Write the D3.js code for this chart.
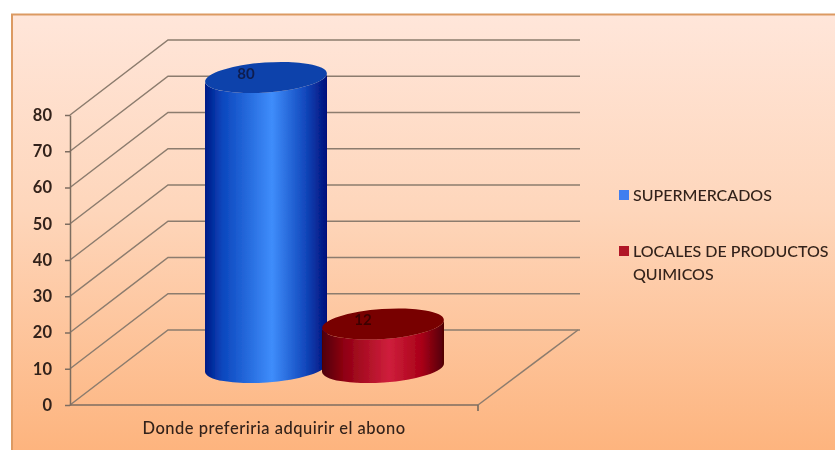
<!DOCTYPE html>
<html>
<head>
<meta charset="utf-8">
<script src="https://cdn.jsdelivr.net/npm/d3@7"></script>
<style>
  html, body { margin: 0; padding: 0; background: #fff; }
  svg { display: block; }
  text { font-family: Lato, "Open Sans", sans-serif; fill: #33221a; }
</style>
</head>
<body>
<svg id="chart" width="835" height="450"></svg>
<script>
const categories = ['Donde preferiria adquirir el abono'];
const seriesNames = ['SUPERMERCADOS', 'LOCALES DE PRODUCTOS QUIMICOS'];
const seriesValues = [80, 12];
const tickValues = [0, 10, 20, 30, 40, 50, 60, 70, 80];

const width = 835;
const height = 450;
const svg = d3.select('#chart');
const defs = svg.append('defs');

// background gradient
const bg = defs.append('linearGradient').attr('id', 'bg').attr('x1', 0).attr('x2', 0).attr('y1', 0).attr('y2', 1);
bg.append('stop').attr('offset', '0%').attr('stop-color', '#ffe6da');
bg.append('stop').attr('offset', '45%').attr('stop-color', '#fed6bb');
bg.append('stop').attr('offset', '100%').attr('stop-color', '#fdb47e');

function sideGradient(id, stops) {
  const g = defs.append('linearGradient').attr('id', id).attr('x1', 0).attr('x2', 1).attr('y1', 0).attr('y2', 0);
  stops.forEach(s => g.append('stop').attr('offset', s[0]).attr('stop-color', s[1]));
}
sideGradient('side0', [['0%', '#001a86'], ['14%', '#0b46bd'], ['55%', '#3f8dfb'], ['82%', '#1249bd'], ['100%', '#00107a']]);
sideGradient('side1', [['0%', '#4e0006'], ['18%', '#8f0012'], ['55%', '#cf1f3c'], ['82%', '#a80018'], ['100%', '#500005']]);

const soft = defs.append('filter').attr('id', 'soft').attr('x', '-5%').attr('y', '-5%').attr('width', '110%').attr('height', '110%');
soft.append('feGaussianBlur').attr('stdDeviation', 0.7);

svg.append('rect')
  .attr('x', 11).attr('y', 14)
  .attr('width', width - 11).attr('height', height - 14)
  .attr('fill', 'url(#bg)');
svg.append('path')
  .attr('d', `M12,${height}V14.5H${width}`)
  .attr('fill', 'none')
  .attr('stroke', '#dc9a62')
  .attr('stroke-width', 2);

const plot = svg.append('g').attr('filter', 'url(#soft)');

// front plane scales, the back wall is the same thing shifted by depth
const yScale = d3.scaleLinear().domain([0, 80]).range([405, 115]);
const xFront = d3.scaleLinear().domain([0, 1]).range([70, 478]);
const depth = { x: 98, y: -75 };

// cylinders stand on the middle of the floor
const xBar = d3.scalePoint().domain(seriesNames).range([266, 383]);
const rx = 61;
const ry = 15;
const tilt = -4;
const tip = rx * Math.sin(tilt * Math.PI / 180);

const gridColor = '#8c7c6e';

// grid on the side and back walls
plot.append('g')
  .selectAll('path')
  .data(tickValues)
  .join('path')
  .attr('d', d => {
    const y = yScale(d);
    return `M${xFront(0)},${y}L${xFront(0) + depth.x},${y + depth.y}H${xFront(1) + depth.x + 4}`;
  })
  .attr('fill', 'none')
  .attr('stroke', gridColor)
  .attr('stroke-width', 1.5);

// floor
plot.append('path')
  .attr('d', `M${xFront(1)},${yScale(0)}L${xFront(1) + depth.x + 2},${yScale(0) + depth.y}`)
  .attr('fill', 'none')
  .attr('stroke', gridColor)
  .attr('stroke-width', 1.5);
plot.append('path')
  .attr('d', `M${xFront(0)},${yScale(0)}H${xFront(1)}M${xFront(1)},${yScale(0)}v6`)
  .attr('fill', 'none')
  .attr('stroke', '#7d6d60')
  .attr('stroke-width', 1.7);

// y axis
const yAxis = plot.append('g')
  .attr('transform', `translate(${xFront(0)},0)`)
  .call(d3.axisLeft(yScale).tickValues(tickValues).tickSize(5).tickPadding(13).tickSizeOuter(0));
yAxis.select('.domain').attr('stroke', '#7d6d60').attr('stroke-width', 1.5);
yAxis.selectAll('.tick line').attr('stroke', '#7d6d60').attr('stroke-width', 1.5);
yAxis.selectAll('.tick text')
  .style('font-family', 'Lato, sans-serif')
  .style('font-size', '16.5px')
  .style('font-weight', 700)
  .attr('fill', '#33221a');

// cylinders
const topFill = ['#0a42ab', '#780006'];
const bars = plot.append('g')
  .selectAll('g')
  .data(seriesNames.map((name, i) => ({ name, value: seriesValues[i], i })))
  .join('g');

const baseY = yScale(0) + depth.y / 2;
const valueY = d => baseY - (yScale(0) - yScale(d.value));

bars.append('path')
  .attr('d', d => {
    const cx = xBar(d.name);
    const t = valueY(d);
    return `M${cx - rx},${t - tip}L${cx - rx},${baseY - tip}`
      + `A${rx},${ry} ${tilt} 0 0 ${cx + rx},${baseY + tip}`
      + `L${cx + rx},${t + tip}`
      + `A${rx},${ry} ${tilt} 0 1 ${cx - rx},${t - tip}Z`;
  })
  .attr('fill', d => `url(#side${d.i})`);

bars.append('ellipse')
  .attr('cx', d => xBar(d.name))
  .attr('cy', d => valueY(d))
  .attr('rx', rx)
  .attr('ry', ry)
  .attr('transform', d => `rotate(${tilt} ${xBar(d.name)} ${valueY(d)})`)
  .attr('fill', d => topFill[d.i]);

bars.append('text')
  .attr('x', d => xBar(d.name) - 20)
  .attr('y', d => valueY(d) + 1)
  .attr('text-anchor', 'middle')
  .style('font-size', '15px')
  .style('font-weight', 700)
  .style('fill', d => d.i === 0 ? '#0a1f50' : '#3d0505')
  .text(d => d.value);

// category label
plot.append('text')
  .attr('x', 274)
  .attr('y', 434)
  .attr('text-anchor', 'middle')
  .style('font-size', '16.5px')
  .style('font-weight', 500)
  .style('letter-spacing', '0.5px')
  .text(categories[0]);

// legend
const legendColors = ['#3f7ef0', '#b01828'];
const legendLines = [['SUPERMERCADOS'], ['LOCALES DE PRODUCTOS', 'QUIMICOS']];
const legendScale = d3.scalePoint().domain(seriesNames).range([195, 251]);

const legend = plot.append('g')
  .selectAll('g')
  .data(seriesNames)
  .join('g')
  .attr('transform', d => `translate(619,${legendScale(d)})`);

legend.append('rect')
  .attr('x', 0).attr('y', -5)
  .attr('width', 10).attr('height', 10)
  .attr('fill', (d, i) => legendColors[i]);

legend.append('text')
  .attr('x', 14)
  .style('font-size', '16px')
  .style('font-weight', 500)
  .selectAll('tspan')
  .data((d, i) => legendLines[i])
  .join('tspan')
  .attr('x', 14)
  .attr('y', (d, i) => 6 + i * 23)
  .text(d => d);
</script>
</body>
</html>
